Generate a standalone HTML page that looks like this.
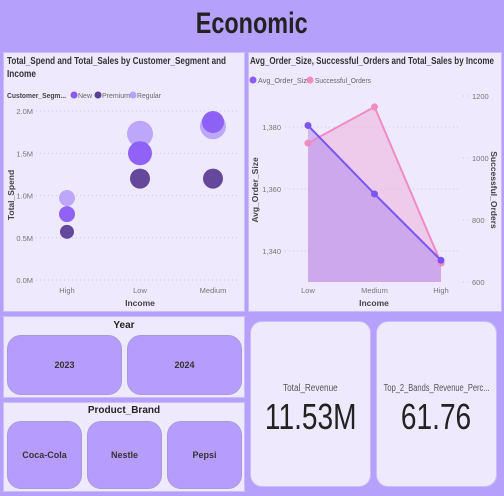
<!DOCTYPE html>
<html><head><meta charset="utf-8"><style>
body{margin:0;width:504px;height:496px;background:#b5a0fc;font-family:"Liberation Sans",sans-serif;position:relative;overflow:hidden;color:#252423}
.abs{position:absolute}
.panel{background:#eee9fd;border:1px solid #c9bdfb;box-sizing:border-box;overflow:hidden}
.btn{position:absolute;background:#b69dfd;border:1px solid #a89ad8;border-radius:14px;box-sizing:border-box;display:flex;align-items:center;justify-content:center;font-size:9px;font-weight:bold;color:#333}
.card{position:absolute;background:#eee9fd;border-radius:12px;border:1px solid #c9bdfb;box-sizing:border-box;text-align:center;overflow:hidden}
.sq{display:inline-block;transform:scaleX(0.82)}
</style></head><body>
<div class="abs" style="left:0;top:7px;width:504px;text-align:center;font-size:30px;font-weight:bold;color:#222"><span class="sq" style="transform:scaleX(0.78)">Economic</span></div>

<div class="abs panel" style="left:3px;top:52px;width:242px;height:260px">
<svg id="sc" width="242" height="260" style="position:absolute;left:-4px;top:-53px;overflow:visible"></svg>
</div>
<div class="abs panel" style="left:248px;top:52px;width:254px;height:260px">
<svg id="ln" width="254" height="260" style="position:absolute;left:-249px;top:-53px;overflow:visible"></svg>
</div>

<div class="abs panel" style="left:3px;top:316px;width:242px;height:82px">
<div class="abs" style="left:0;top:3px;width:100%;text-align:center;font-size:10px;font-weight:bold">Year</div>
<div class="btn" style="left:3px;top:18px;width:115px;height:60px">2023</div>
<div class="btn" style="left:123px;top:18px;width:115px;height:60px">2024</div>
</div>
<div class="abs panel" style="left:3px;top:402px;width:242px;height:90px">
<div class="abs" style="left:0;top:2px;width:100%;text-align:center;font-size:10px;font-weight:bold">Product_Brand</div>
<div class="btn" style="left:3px;top:18px;width:75px;height:68px">Coca-Cola</div>
<div class="btn" style="left:83px;top:18px;width:75px;height:68px">Nestle</div>
<div class="btn" style="left:163px;top:18px;width:75px;height:68px">Pepsi</div>
</div>

<div class="card" style="left:250px;top:321px;width:121px;height:166px">
<div style="margin-top:61px;font-size:10px;color:#555"><span class="sq">Total_Revenue</span></div>
<div style="margin-top:2px;font-size:36px;color:#222;white-space:nowrap"><span class="sq" style="transform:scaleX(0.78)">11.53M</span></div>
</div>
<div class="card" style="left:376px;top:321px;width:121px;height:166px">
<div style="margin-top:61px;font-size:10px;color:#555;white-space:nowrap;margin-left:-20px;margin-right:-20px"><span class="sq" style="transform:scaleX(0.75)">Top_2_Bands_Revenue_Perc...</span></div>
<div style="margin-top:2px;font-size:36px;color:#222"><span class="sq" style="transform:scaleX(0.78)">61.76</span></div>
</div>

<script>
const NS="http://www.w3.org/2000/svg";
function mk(p,t,a,txt){const e=document.createElementNS(NS,t);for(const k in a)e.setAttribute(k,a[k]);if(txt!==undefined)e.textContent=txt;p.appendChild(e);return e;}
// Scatter data
const incomeCats=["High","Low","Medium"];
const segments=["Regular","New","Premium"];
const segColors=["#b8a3fb","#8a5cf6","#5b3f96"];
const spendRegular=[0.97,1.73,1.82];
const spendNew=[0.78,1.5,1.87];
const spendPremium=[0.57,1.2,1.2];
const salesRegular=[8,13,13];
const salesNew=[8,12,11];
const salesPremium=[7,10,10];
const yTicks=[0,0.5,1.0,1.5,2.0];
const yTickLabels=["0.0M","0.5M","1.0M","1.5M","2.0M"];

const sc=document.getElementById('sc');
const sx=i=>67+i*73, sy=v=>280-v*84.5;
let t=mk(sc,'text',{x:7,y:64,'font-size':10,'font-weight':'bold',fill:'#333',textLength:219,lengthAdjust:'spacingAndGlyphs'},'Total_Spend and Total_Sales by Customer_Segment and');

mk(sc,'text',{x:7,y:77,'font-size':10,'font-weight':'bold',fill:'#333',textLength:29,lengthAdjust:'spacingAndGlyphs'},'Income');
mk(sc,'text',{x:7,y:98,'font-size':7.5,'font-weight':'bold',fill:'#444',textLength:59,lengthAdjust:'spacingAndGlyphs'},'Customer_Segm...');
const legNames=["New","Premium","Regular"],legCols=["#8a5cf6","#5b3f96","#b8a3fb"],legX=[71,95,130],legW=[14,28,24];
legNames.forEach((n,i)=>{const g=mk(sc,'g',{});
mk(g,'circle',{cx:legX[i]+3,cy:95,r:3.5,fill:legCols[i]});mk(g,'text',{x:legX[i]+7,y:98,'font-size':7.5,fill:'#666',textLength:legW[i],lengthAdjust:'spacingAndGlyphs'},n);});
yTicks.forEach((v,i)=>{mk(sc,'line',{x1:36,x2:240,y1:sy(v),y2:sy(v),stroke:'#ccc','stroke-dasharray':'1 3'});
const l=mk(sc,'text',{x:33,y:sy(v)+3,'font-size':7.5,fill:'#777','text-anchor':'end'},yTickLabels[i]);});
incomeCats.forEach((c,i)=>mk(sc,'text',{x:sx(i),y:293,'font-size':7.5,fill:'#777','text-anchor':'middle'},c));
mk(sc,'text',{x:140,y:306,'font-size':8.5,'font-weight':'bold',fill:'#444','text-anchor':'middle'},'Income');
mk(sc,'text',{x:0,y:0,'font-size':8.5,'font-weight':'bold',fill:'#444','text-anchor':'middle',transform:'translate(14,195) rotate(-90)'},'Total_Spend');
const spends=[spendRegular,spendNew,spendPremium],sizes=[salesRegular,salesNew,salesPremium];
[2,0,1].forEach(s=>{incomeCats.forEach((c,i)=>{const b=mk(sc,'circle',{cx:sx(i),cy:sy(spends[s][i]),r:sizes[s][i],fill:segColors[s],'fill-opacity':0.95});
});});

// Line chart data
const lineCats=["Low","Medium","High"];
const avgOrder=[1380.5,1358.4,1337];
const successOrders=[1048,1165,661];
const leftTicks=[1340,1360,1380];
const rightTicks=[600,800,1000,1200];
const ln=document.getElementById('ln');
const lx=i=>308+i*66.5, ly=v=>127-(v-1380)*3.1, ry=v=>282-(v-600)*0.31;
mk(ln,'text',{x:250,y:64,'font-size':10,'font-weight':'bold',fill:'#333',textLength:244,lengthAdjust:'spacingAndGlyphs'},'Avg_Order_Size, Successful_Orders and Total_Sales by Income');
[["Avg_Order_Size","#8a5cf6",250,53],["Successful_Orders","#ef8cc4",307,56]].forEach(a=>{mk(ln,'circle',{cx:a[2]+3,cy:80,r:3.5,fill:a[1]});mk(ln,'text',{x:a[2]+8,y:83,'font-size':7.5,fill:'#666',textLength:a[3],lengthAdjust:'spacingAndGlyphs'},a[0]);});
leftTicks.forEach(v=>{mk(ln,'line',{x1:285,x2:460,y1:ly(v),y2:ly(v),stroke:'#ccc','stroke-dasharray':'1 3'});mk(ln,'text',{x:281,y:ly(v)+3,'font-size':7.5,fill:'#777','text-anchor':'end'},v.toLocaleString('en-US'));});
rightTicks.forEach(v=>{mk(ln,'line',{x1:463,x2:470,y1:ry(v),y2:ry(v),stroke:'#ccc','stroke-dasharray':'1 3'});mk(ln,'text',{x:472,y:ry(v)+3,'font-size':7.5,fill:'#777'},v);});
lineCats.forEach((c,i)=>mk(ln,'text',{x:lx(i),y:293,'font-size':7.5,fill:'#777','text-anchor':'middle'},c));
mk(ln,'text',{x:374,y:306,'font-size':8.5,'font-weight':'bold',fill:'#444','text-anchor':'middle'},'Income');
mk(ln,'text',{x:0,y:0,'font-size':8.5,'font-weight':'bold',fill:'#444','text-anchor':'middle',transform:'translate(258,190) rotate(-90)'},'Avg_Order_Size');
mk(ln,'text',{x:0,y:0,'font-size':8.5,'font-weight':'bold',fill:'#444','text-anchor':'middle',transform:'translate(491,190) rotate(90)'},'Successful_Orders');
const base=282;
let pa='M'+lx(0)+','+base+successOrders.map((v,i)=>'L'+lx(i)+','+ry(v)).join('')+'L'+lx(2)+','+base+'Z';
let pb='M'+lx(0)+','+base+avgOrder.map((v,i)=>'L'+lx(i)+','+ly(v)).join('')+'L'+lx(2)+','+base+'Z';
let e=mk(ln,'path',{d:pa,fill:'#efb6e0','fill-opacity':0.6});
e=mk(ln,'path',{d:pb,fill:'#a77ef0','fill-opacity':0.45});
e=mk(ln,'polyline',{points:successOrders.map((v,i)=>lx(i)+','+ry(v)).join(' '),fill:'none',stroke:'#ef8cc4','stroke-width':2});
e=mk(ln,'polyline',{points:avgOrder.map((v,i)=>lx(i)+','+ly(v)).join(' '),fill:'none',stroke:'#7b55f0','stroke-width':2});
successOrders.forEach((v,i)=>{const p=mk(ln,'circle',{cx:lx(i),cy:ry(v),r:3.5,fill:'#ef8cc4'});});
avgOrder.forEach((v,i)=>{const p=mk(ln,'circle',{cx:lx(i),cy:ly(v),r:3.5,fill:'#7b55f0'});});
</script>
</body></html>
